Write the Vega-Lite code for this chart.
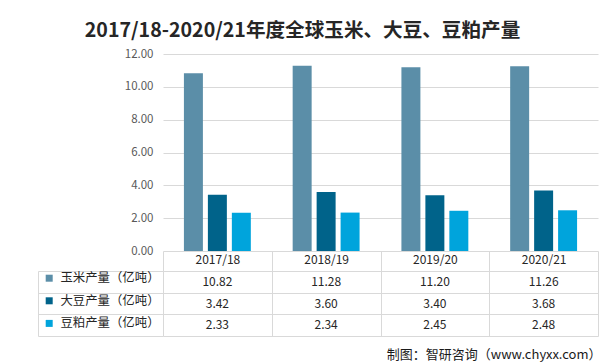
{
  "$schema": "https://vega.github.io/schema/vega-lite/v6.json",
  "padding": {"left": 37, "top": 21, "right": 0, "bottom": 0},
  "background": "white",
  "title": {
    "text": "2017/18-2020/21年度全球玉米、大豆、豆粕产量",
    "font": "Noto Sans CJK SC",
    "fontSize": 19.6,
    "fontWeight": "bold",
    "color": "#262626",
    "anchor": "middle",
    "dx": -17,
    "offset": 6
  },
  "data": {
    "values": [
      {"period": "2017/18", "series": "玉米产量（亿吨）", "value": 10.82},
      {"period": "2018/19", "series": "玉米产量（亿吨）", "value": 11.28},
      {"period": "2019/20", "series": "玉米产量（亿吨）", "value": 11.20},
      {"period": "2020/21", "series": "玉米产量（亿吨）", "value": 11.26},
      {"period": "2017/18", "series": "大豆产量（亿吨）", "value": 3.42},
      {"period": "2018/19", "series": "大豆产量（亿吨）", "value": 3.60},
      {"period": "2019/20", "series": "大豆产量（亿吨）", "value": 3.40},
      {"period": "2020/21", "series": "大豆产量（亿吨）", "value": 3.68},
      {"period": "2017/18", "series": "豆粕产量（亿吨）", "value": 2.33},
      {"period": "2018/19", "series": "豆粕产量（亿吨）", "value": 2.34},
      {"period": "2019/20", "series": "豆粕产量（亿吨）", "value": 2.45},
      {"period": "2020/21", "series": "豆粕产量（亿吨）", "value": 2.48}
    ]
  },
  "bounds": "flush",
  "spacing": 20,
  "vconcat": [
    {
      "width": 435,
      "height": 197,
      "mark": {"type": "bar"},
      "encoding": {
        "x": {"field": "period", "type": "nominal", "sort": null,
              "scale": {"paddingInner": 0, "paddingOuter": 0}, "axis": null},
        "xOffset": {"field": "series", "type": "nominal",
                    "sort": ["玉米产量（亿吨）", "大豆产量（亿吨）", "豆粕产量（亿吨）"],
                    "scale": {"paddingInner": 0.208, "paddingOuter": 0.873}},
        "y": {"field": "value", "type": "quantitative",
              "scale": {"domain": [0, 12], "nice": false},
              "axis": {"values": [0, 2, 4, 6, 8, 10, 12], "format": ".2f", "grid": true,
                       "gridColor": "#d9d9d9", "domain": false, "ticks": false,
                       "labelPadding": 10, "labelFont": "Noto Sans CJK SC",
                       "labelFontSize": 11.5, "labelColor": "#595959", "title": null}},
        "color": {"field": "series", "type": "nominal",
                  "sort": ["玉米产量（亿吨）", "大豆产量（亿吨）", "豆粕产量（亿吨）"],
                  "scale": {"range": ["#5b8ea8", "#00638a", "#00a4dc"]},
                  "legend": {"orient": "none", "legendX": -120, "legendY": 218,
                             "title": null, "symbolType": "square", "symbolSize": 49,
                             "symbolStrokeWidth": 0, "labelFont": "Noto Sans CJK SC",
                             "labelFontSize": 12.4, "labelColor": "#262626",
                             "labelOffset": 5, "rowPadding": 9.6, "padding": 0}}
      }
    },
    {
      "width": 435,
      "height": 65,
      "title": {"text": "制图：智研咨询（www.chyxx.com）", "orient": "bottom",
                "anchor": "end", "font": "Noto Sans CJK SC", "fontSize": 13,
                "fontWeight": "normal", "color": "#1a1a1a", "offset": 12, "dx": 3},
      "mark": {"type": "text", "font": "Noto Sans CJK SC", "fontSize": 12, "color": "#262626"},
      "encoding": {
        "x": {"field": "period", "type": "nominal", "sort": null,
              "scale": {"paddingInner": 0, "paddingOuter": 0},
              "axis": {"orient": "top", "title": null, "labelAngle": 0,
                       "labelFont": "Noto Sans CJK SC", "labelFontSize": 12,
                       "labelColor": "#262626", "tickBand": "extent", "tickSize": 20,
                       "tickColor": "#d9d9d9", "domainColor": "#d9d9d9", "grid": true,
                       "gridColor": "#d9d9d9", "labelPadding": -15}},
        "y": {"field": "series", "type": "nominal",
              "sort": ["玉米产量（亿吨）", "大豆产量（亿吨）", "豆粕产量（亿吨）"],
              "scale": {"paddingInner": 0, "paddingOuter": 0},
              "axis": {"orient": "left", "offset": 125, "tickSize": -125,
                       "tickBand": "extent", "tickColor": "#d9d9d9",
                       "domainColor": "#d9d9d9", "labels": false, "title": null,
                       "grid": true, "gridColor": "#d9d9d9"}},
        "text": {"field": "value", "type": "quantitative", "format": ".2f"}
      }
    }
  ],
  "config": {
    "view": {"stroke": null},
    "font": "Noto Sans CJK SC"
  }
}
